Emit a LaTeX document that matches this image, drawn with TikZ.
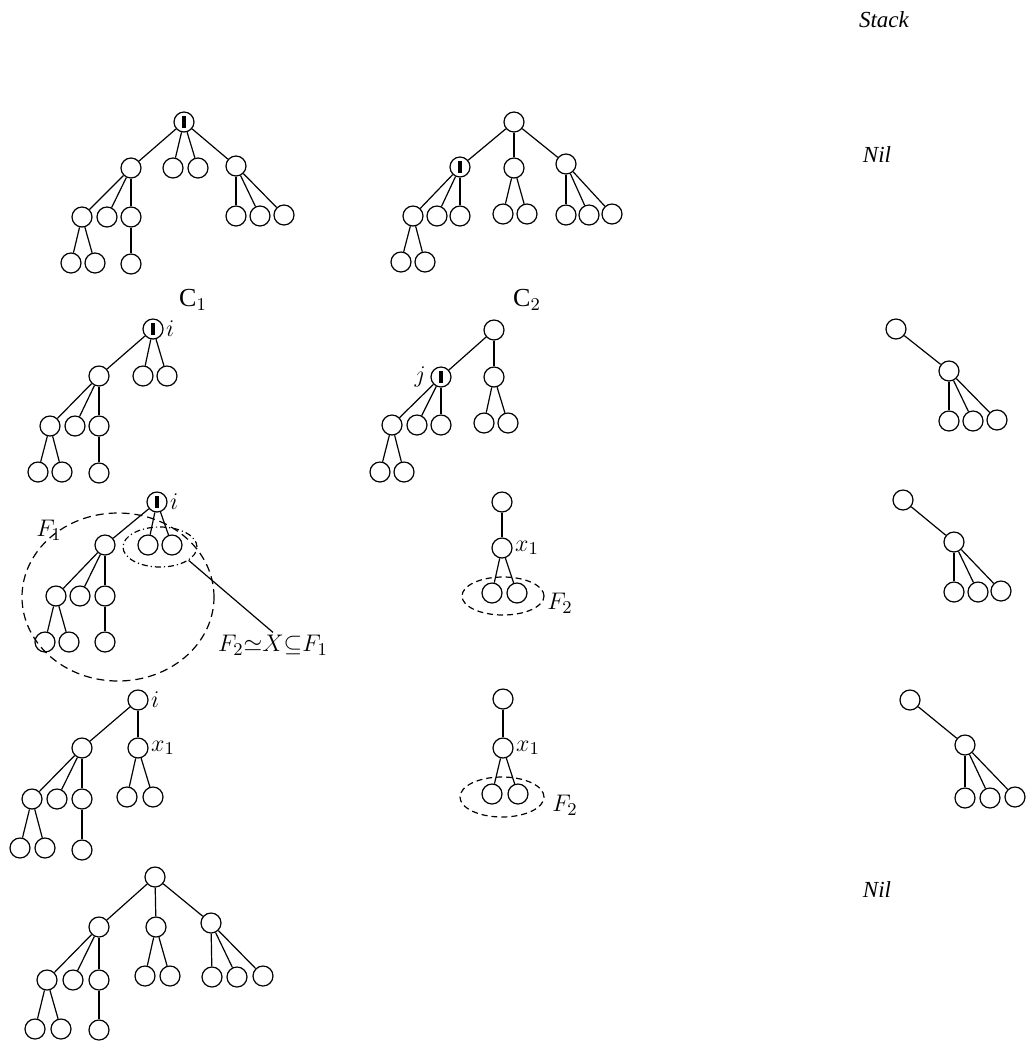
\documentclass[tikz,border=0pt]{standalone}
\usepackage{fontspec}
\setmainfont{Liberation Serif}
\usepackage{amsmath,amssymb}
\usetikzlibrary{positioning,shapes.geometric}
\tikzset{
  vtx/.style={circle, draw, line width=0.6pt, minimum size=10pt, inner sep=0pt},
  cur/.style={vtx, path picture={\fill ([xshift=-1pt,yshift=-3pt]path picture bounding box.center) rectangle ++(2pt,6pt);}},
  lbl/.style={font=\fontsize{13}{15}\selectfont, inner sep=1pt},
  hdr/.style={font=\fontsize{11.5}{13}\selectfont\itshape, inner sep=0pt},
  forest/.style={ellipse, draw, line width=0.6pt, dash pattern=on 4pt off 2.5pt, inner sep=0pt},
  sub/.style={ellipse, draw, line width=0.6pt, dash pattern=on 3pt off 1.5pt on 0.6pt off 1.5pt, inner sep=0pt},
  small/.style={ellipse, draw, line width=0.6pt, dash pattern=on 3pt off 2pt, inner sep=0pt},
}
\begin{document}
\begin{tikzpicture}[x=0.5pt, y=-0.5pt, line width=0.6pt]
  \useasboundingbox (0,0) rectangle (1026,1041);
  % column heads
  \node[hdr] (stack) at (884,20) {Stack};
  \node[hdr] (nil1) at (877,155) {Nil};
  \node[hdr] (nil2) at (877,890) {Nil};
  \node[lbl] (c1) at (193,300) {C$_1$};
  \node[lbl] (c2) at (527,300) {C$_2$};

  % top left tree
  \node[cur] (a0) at (184,122) {};
  \node[vtx] (a1) at (131,168) {};
  \node[vtx] (a2) at (173,168) {};
  \node[vtx] (a3) at (198,168) {};
  \node[vtx] (a4) at (236,166) {};
  \node[vtx] (a5) at (82,217) {};
  \node[vtx] (a6) at (107,217) {};
  \node[vtx] (a7) at (131,217) {};
  \node[vtx] (a8) at (236,216) {};
  \node[vtx] (a9) at (260,216) {};
  \node[vtx] (a10) at (284,215) {};
  \node[vtx] (a11) at (71,263) {};
  \node[vtx] (a12) at (95,263) {};
  \node[vtx] (a13) at (131,264) {};
  \foreach \p/\c in {a0/a1,a0/a2,a0/a3,a0/a4,a1/a5,a1/a6,a1/a7,a4/a8,a4/a9,a4/a10,a5/a11,a5/a12,a7/a13}
    \draw (\p) -- (\c);

  % top middle tree
  \node[vtx] (b0) at (514,122) {};
  \node[cur] (b1) at (460,167) {};
  \node[vtx] (b2) at (514,168) {};
  \node[vtx] (b3) at (566,164) {};
  \node[vtx] (b4) at (413,216) {};
  \node[vtx] (b5) at (437,216) {};
  \node[vtx] (b6) at (460,216) {};
  \node[vtx] (b7) at (503,214) {};
  \node[vtx] (b8) at (527,214) {};
  \node[vtx] (b9) at (566,215) {};
  \node[vtx] (b10) at (589,215) {};
  \node[vtx] (b11) at (612,214) {};
  \node[vtx] (b12) at (401,262) {};
  \node[vtx] (b13) at (425,262) {};
  \foreach \p/\c in {b0/b1,b0/b2,b0/b3,b1/b4,b1/b5,b1/b6,b2/b7,b2/b8,b3/b9,b3/b10,b3/b11,b4/b12,b4/b13}
    \draw (\p) -- (\c);

  % second row
  \node[cur] (c0) at (153,329) {};
  \node[lbl, right=0pt of c0] (ci) {$i$};
  \node[vtx] (c1n) at (99,376) {};
  \node[vtx] (c2n) at (143,376) {};
  \node[vtx] (c3n) at (167,376) {};
  \node[vtx] (c4n) at (50,426) {};
  \node[vtx] (c5n) at (75,426) {};
  \node[vtx] (c6n) at (99,426) {};
  \node[vtx] (c7n) at (38,472) {};
  \node[vtx] (c8n) at (62,472) {};
  \node[vtx] (c9n) at (99,473) {};
  \foreach \p/\c in {c0/c1n,c0/c2n,c0/c3n,c1n/c4n,c1n/c5n,c1n/c6n,c4n/c7n,c4n/c8n,c6n/c9n}
    \draw (\p) -- (\c);

  \node[vtx] (d0) at (494,330) {};
  \node[cur] (d1) at (441,377) {};
  \node[lbl, left=1pt of d1] (dj) {$j$};
  \node[vtx] (d2) at (494,377) {};
  \node[vtx] (d3) at (392,425) {};
  \node[vtx] (d4) at (417,425) {};
  \node[vtx] (d5) at (441,425) {};
  \node[vtx] (d6) at (484,423) {};
  \node[vtx] (d7) at (508,423) {};
  \node[vtx] (d8) at (380,472) {};
  \node[vtx] (d9) at (404,472) {};
  \foreach \p/\c in {d0/d1,d0/d2,d1/d3,d1/d4,d1/d5,d2/d6,d2/d7,d3/d8,d3/d9}
    \draw (\p) -- (\c);

  \node[vtx] (e0) at (896,329) {};
  \node[vtx] (e1) at (949,371) {};
  \node[vtx] (e2) at (949,421) {};
  \node[vtx] (e3) at (973,421) {};
  \node[vtx] (e4) at (997,420) {};
  \foreach \c in {e0,e2,e3,e4}
    \draw (e1) -- (\c);

  % third row
  \node[cur] (f0) at (157,502) {};
  \node[lbl, right=0pt of f0] (fi) {$i$};
  \node[vtx] (f1) at (105,545) {};
  \node[vtx] (f2) at (148,545) {};
  \node[vtx] (f3) at (172,545) {};
  \node[vtx] (f4) at (56,596) {};
  \node[vtx] (f5) at (80,596) {};
  \node[vtx] (f6) at (105,596) {};
  \node[vtx] (f7) at (45,642) {};
  \node[vtx] (f8) at (69,642) {};
  \node[vtx] (f9) at (105,642) {};
  \foreach \p/\c in {f0/f1,f0/f2,f0/f3,f1/f4,f1/f5,f1/f6,f4/f7,f4/f8,f6/f9}
    \draw (\p) -- (\c);
  \node[forest, minimum width=96pt, minimum height=84pt] (F1e) at (118,597) {};
  \node[sub, minimum width=37pt, minimum height=20pt] (F2e) at (160,547) {};
  \node[lbl] (F1l) at (49,530) {$F_{1}$};
  \node[lbl] (rel) at (273,645) {$F_2{\simeq}X{\subseteq}F_1$};
  \draw (F2e.-25) -- (rel.north);

  \node[vtx] (g0) at (502,502) {};
  \node[vtx] (g1) at (502,548) {};
  \node[lbl, right=0pt of g1] (gx) {$x_1$};
  \node[vtx] (g2) at (492,593) {};
  \node[vtx] (g3) at (517,593) {};
  \foreach \p/\c in {g0/g1,g1/g2,g1/g3}
    \draw (\p) -- (\c);
  \node[small, minimum width=41pt, minimum height=19pt] (G2e) at (503,596) {};
  \node[lbl] (G2l) at (560,603) {$F_2$};

  \node[vtx] (h0) at (903,500) {};
  \node[vtx] (h1) at (954,542) {};
  \node[vtx] (h2) at (954,592) {};
  \node[vtx] (h3) at (978,592) {};
  \node[vtx] (h4) at (1001,591) {};
  \foreach \c in {h0,h2,h3,h4}
    \draw (h1) -- (\c);

  % fourth row
  \node[vtx] (k0) at (138,700) {};
  \node[lbl, right=0pt of k0] (ki) {$i$};
  \node[vtx] (k1) at (82,748) {};
  \node[vtx] (k2) at (138,748) {};
  \node[lbl, right=0pt of k2] (kx) {$x_1$};
  \node[vtx] (k3) at (32,799) {};
  \node[vtx] (k4) at (57,799) {};
  \node[vtx] (k5) at (82,799) {};
  \node[vtx] (k6) at (127,797) {};
  \node[vtx] (k7) at (153,797) {};
  \node[vtx] (k8) at (20,848) {};
  \node[vtx] (k9) at (45,848) {};
  \node[vtx] (k10) at (82,850) {};
  \foreach \p/\c in {k0/k1,k0/k2,k1/k3,k1/k4,k1/k5,k2/k6,k2/k7,k3/k8,k3/k9,k5/k10}
    \draw (\p) -- (\c);

  \node[vtx] (l0) at (503,699) {};
  \node[vtx] (l1) at (503,748) {};
  \node[lbl, right=0pt of l1] (lx) {$x_1$};
  \node[vtx] (l2) at (492,794) {};
  \node[vtx] (l3) at (518,794) {};
  \foreach \p/\c in {l0/l1,l1/l2,l1/l3}
    \draw (\p) -- (\c);
  \node[small, minimum width=42pt, minimum height=20pt] (L2e) at (502,797) {};
  \node[lbl] (L2l) at (565,805) {$F_2$};

  \node[vtx] (m0) at (910,700) {};
  \node[vtx] (m1) at (965,745) {};
  \node[vtx] (m2) at (965,798) {};
  \node[vtx] (m3) at (990,798) {};
  \node[vtx] (m4) at (1015,797) {};
  \foreach \c in {m0,m2,m3,m4}
    \draw (m1) -- (\c);

  % last row
  \node[vtx] (n0) at (155,877) {};
  \node[vtx] (n1) at (99,927) {};
  \node[vtx] (n2) at (156,927) {};
  \node[vtx] (n3) at (211,923) {};
  \node[vtx] (n4) at (47,980) {};
  \node[vtx] (n5) at (73,980) {};
  \node[vtx] (n6) at (99,980) {};
  \node[vtx] (n7) at (145,976) {};
  \node[vtx] (n8) at (170,976) {};
  \node[vtx] (n9) at (212,977) {};
  \node[vtx] (n10) at (237,977) {};
  \node[vtx] (n11) at (263,976) {};
  \node[vtx] (n12) at (35,1029) {};
  \node[vtx] (n13) at (61,1029) {};
  \node[vtx] (n14) at (99,1030) {};
  \foreach \p/\c in {n0/n1,n0/n2,n0/n3,n1/n4,n1/n5,n1/n6,n2/n7,n2/n8,n3/n9,n3/n10,n3/n11,n4/n12,n4/n13,n6/n14}
    \draw (\p) -- (\c);
\end{tikzpicture}
\end{document}
